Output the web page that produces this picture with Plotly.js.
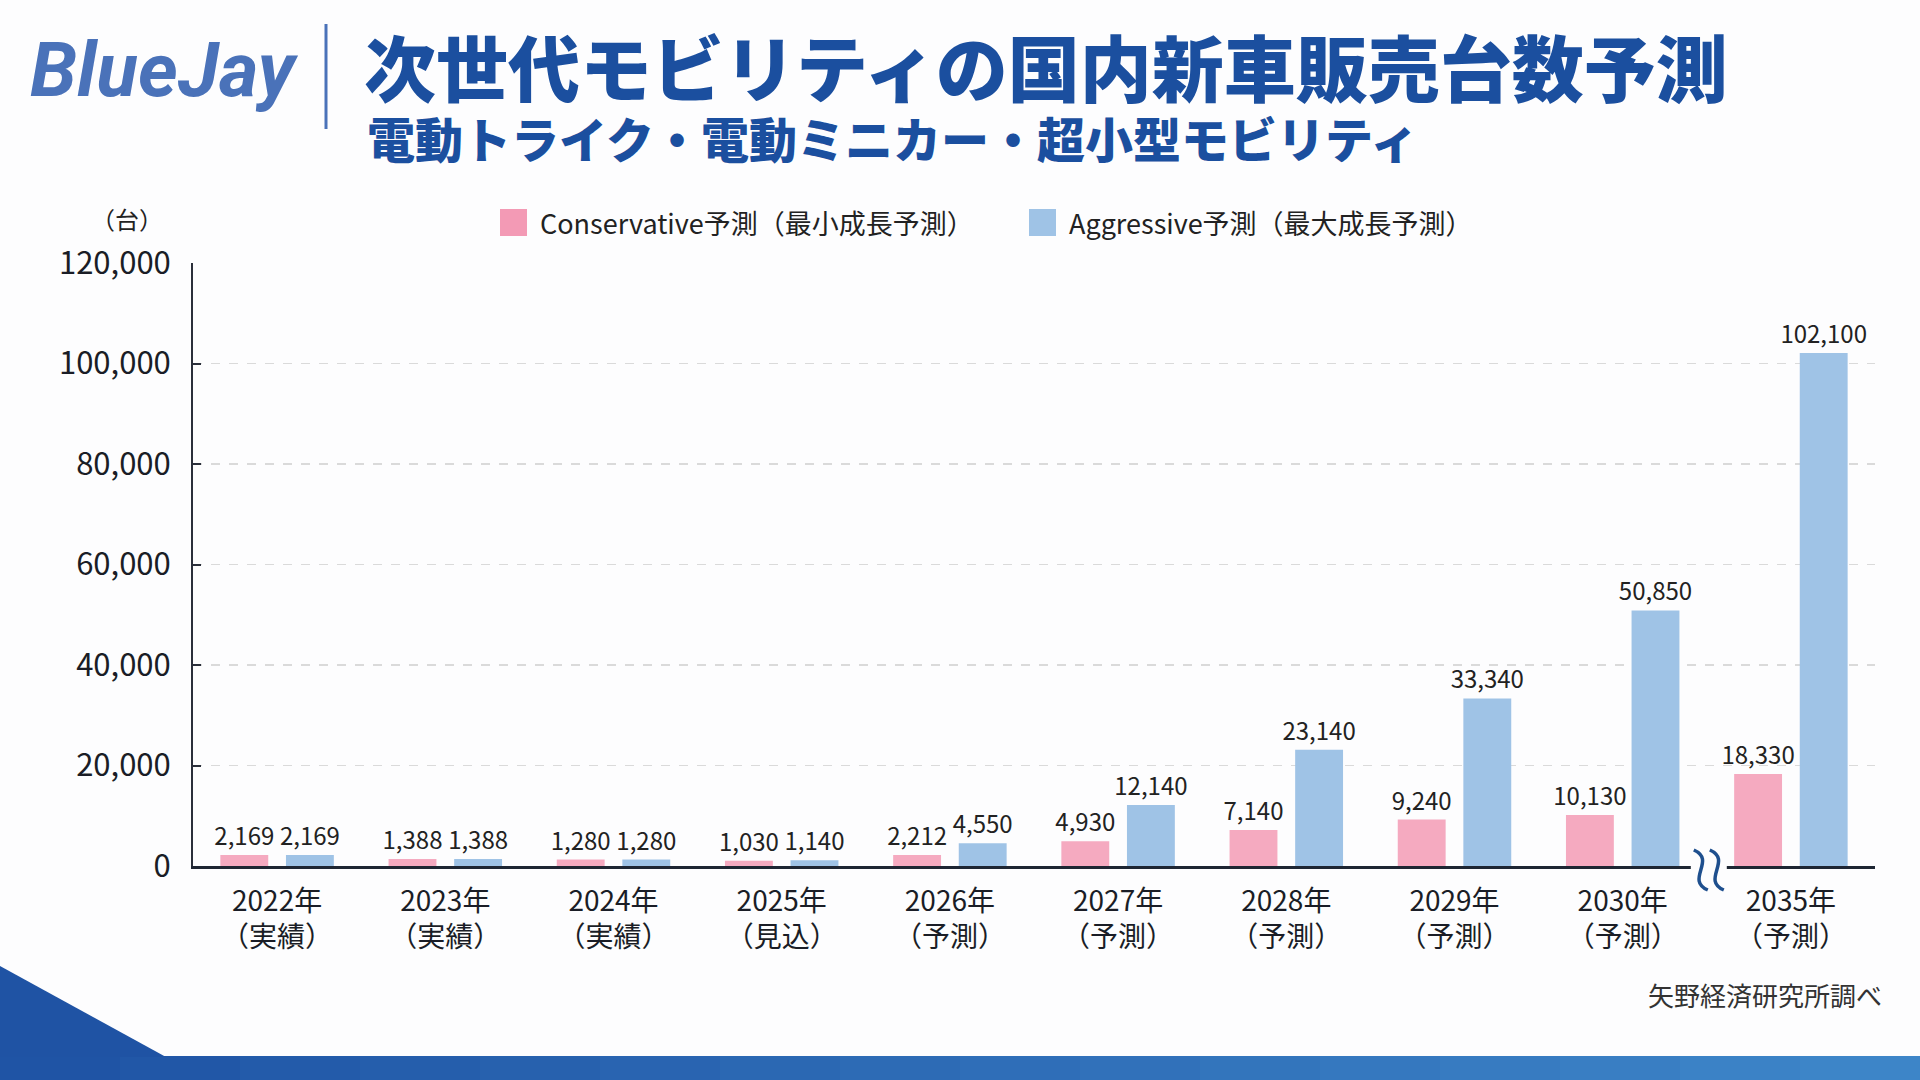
<!DOCTYPE html>
<html lang="ja">
<head>
<meta charset="utf-8">
<title>次世代モビリティの国内新車販売台数予測</title>
<script src="https://cdn.plot.ly/plotly-3.0.1.min.js"></script>
<style>
  html, body { margin: 0; padding: 0; background: #fdfdfe; }
  #chart { width: 1920px; height: 1080px; }
</style>
</head>
<body>
<div id="chart"></div>
<script>
// Data
const years = ['2022年', '2023年', '2024年', '2025年', '2026年', '2027年', '2028年', '2029年', '2030年', '2035年'];
const status = ['実績', '実績', '実績', '見込', '予測', '予測', '予測', '予測', '予測', '予測'];
const conservative = [2169, 1388, 1280, 1030, 2212, 4930, 7140, 9240, 10130, 18330];
const aggressive = [2169, 1388, 1280, 1140, 4550, 12140, 23140, 33340, 50850, 102100];
const yTicks = [0, 20000, 40000, 60000, 80000, 100000, 120000];

const seriesNames = ['Conservative予測（最小成長予測）', 'Aggressive予測（最大成長予測）'];
const pink = '#f5aac0';
const blue = '#9fc3e6';
const navy = '#1b4f9f';
const font = '"Noto Sans CJK JP", "Noto Sans", sans-serif';

// page geometry (pixels) -> paper coords for the decorations
const W = 1920, H = 1080;
const M = { l: 193, r: 45, t: 263, b: 214 };
const PW = W - M.l - M.r;
const PH = H - M.t - M.b;
const px = x => (x - M.l) / PW;
const py = y => (H - M.b - y) / PH;

const xTickText = years.map((y, i) => `${y}<br>（${status[i]}）`);

const bar = (name, values, color) => ({
  type: 'bar',
  name: name,
  x: years,
  y: values,
  marker: { color: color, line: { width: 0 } },
  texttemplate: '%{y:,}',
  textposition: 'outside',
  textangle: 0,
  constraintext: 'none',
  cliponaxis: false,
  textfont: { family: font, size: 24, color: '#222' },
  hoverinfo: 'skip'
});

const traces = [
  bar(seriesNames[0], conservative, pink),
  bar(seriesNames[1], aggressive, blue)
];

// Decorations: header, legend, break mark, footer band
const shapes = [
  { type: 'line', xref: 'paper', yref: 'paper', x0: px(326), x1: px(326), y0: py(24), y1: py(129),
    line: { color: '#4a72b9', width: 3 } },
  { type: 'rect', xref: 'paper', yref: 'paper', x0: px(500), x1: px(527), y0: py(209), y1: py(236),
    fillcolor: '#f39ab5', line: { width: 0 } },
  { type: 'rect', xref: 'paper', yref: 'paper', x0: px(1029), x1: px(1056), y0: py(209), y1: py(236),
    fillcolor: blue, line: { width: 0 } },
  // gap in the x axis between 2030 and 2035
  { type: 'rect', xref: 'paper', yref: 'paper', xsizemode: 'pixel', ysizemode: 'pixel',
    xanchor: 0.9, yanchor: 0, x0: -16, x1: 20, y0: -4, y1: 4,
    fillcolor: '#fdfdfe', line: { width: 0 }, layer: 'above' }
];
[-6, 10].forEach(dx => {
  shapes.push({
    type: 'path', xref: 'paper', yref: 'paper', xsizemode: 'pixel', ysizemode: 'pixel',
    xanchor: 0.9, yanchor: 0,
    path: `M ${dx - 7},16 C ${dx + 16},6 ${dx - 16},-14 ${dx + 7},-24`,
    line: { color: '#1e4f8e', width: 3.5 }, layer: 'above'
  });
});

// footer band, darker on the left
const bandSteps = 16;
const c0 = [31, 84, 165], c1 = [61, 133, 200];
for (let i = 0; i < bandSteps; i++) {
  const t = i / (bandSteps - 1);
  const c = c0.map((v, k) => Math.round(v + (c1[k] - v) * t));
  shapes.push({
    type: 'rect', xref: 'paper', yref: 'paper',
    x0: px(i * W / bandSteps), x1: px((i + 1) * W / bandSteps + 1), y0: py(1056), y1: py(1081),
    fillcolor: `rgb(${c.join(',')})`, line: { width: 0 }
  });
}
shapes.push({
  type: 'path', xref: 'paper', yref: 'paper',
  path: `M ${px(0)},${py(966)} L ${px(166)},${py(1057)} L ${px(0)},${py(1057)} Z`,
  fillcolor: '#1f53a4', line: { width: 0 }
});

const annotations = [
  { text: 'BlueJay', xref: 'paper', yref: 'paper', x: px(28), y: py(70), xanchor: 'left', yanchor: 'middle',
    showarrow: false, font: { family: 'Roboto, "Liberation Sans", sans-serif', size: 76, weight: 700, style: 'italic', color: '#4a72b9' } },
  { text: '次世代モビリティの国内新車販売台数予測', xref: 'paper', yref: 'paper', x: px(362), y: py(65),
    xanchor: 'left', yanchor: 'middle', showarrow: false,
    font: { family: font, size: 72, weight: 900, color: navy } },
  { text: '電動トライク・電動ミニカー・超小型モビリティ', xref: 'paper', yref: 'paper', x: px(365), y: py(137),
    xanchor: 'left', yanchor: 'middle', showarrow: false,
    font: { family: font, size: 48, weight: 900, color: navy } },
  { text: '（台）', xref: 'paper', yref: 'paper', x: px(127), y: py(218), xanchor: 'center', yanchor: 'middle',
    showarrow: false, font: { family: font, size: 24, color: '#222' } },
  { text: seriesNames[0], xref: 'paper', yref: 'paper', x: px(538), y: py(222), xanchor: 'left', yanchor: 'middle',
    showarrow: false, font: { family: font, size: 27, color: '#222' } },
  { text: seriesNames[1], xref: 'paper', yref: 'paper', x: px(1067), y: py(222), xanchor: 'left', yanchor: 'middle',
    showarrow: false, font: { family: font, size: 27, color: '#222' } },
  { text: '矢野経済研究所調べ', xref: 'paper', yref: 'paper', x: px(1884), y: py(994), xanchor: 'right', yanchor: 'middle',
    showarrow: false, font: { family: font, size: 26, color: '#333' } }
];

const layout = {
  width: W,
  height: H,
  margin: M,
  paper_bgcolor: '#fdfdfe',
  plot_bgcolor: '#fdfdfe',
  showlegend: false,
  barmode: 'group',
  bargap: 0.22,
  bargroupgap: 0.27,
  font: { family: font, color: '#222' },
  xaxis: {
    type: 'category',
    tickvals: years,
    ticktext: xTickText,
    showline: true,
    linecolor: '#1e2633',
    linewidth: 3,
    showgrid: false,
    ticks: '',
    ticklabelstandoff: 8,
    tickfont: { family: font, size: 28, color: '#1a1d26' },
    fixedrange: true
  },
  yaxis: {
    range: [0, 120000],
    tickvals: yTicks,
    tickformat: ',d',
    showline: true,
    linecolor: '#2a2f3a',
    linewidth: 2,
    ticks: 'inside',
    ticklen: 8,
    tickwidth: 2,
    tickcolor: '#2a2f3a',
    ticklabelstandoff: 14,
    showgrid: true,
    gridcolor: '#dadada',
    gridwidth: 1.5,
    griddash: 'dash',
    zeroline: false,
    tickfont: { family: font, size: 31, color: '#1a1d26' },
    fixedrange: true
  },
  shapes: shapes,
  annotations: annotations
};

Plotly.newPlot('chart', traces, layout, { displayModeBar: false, staticPlot: true });
</script>
</body>
</html>
